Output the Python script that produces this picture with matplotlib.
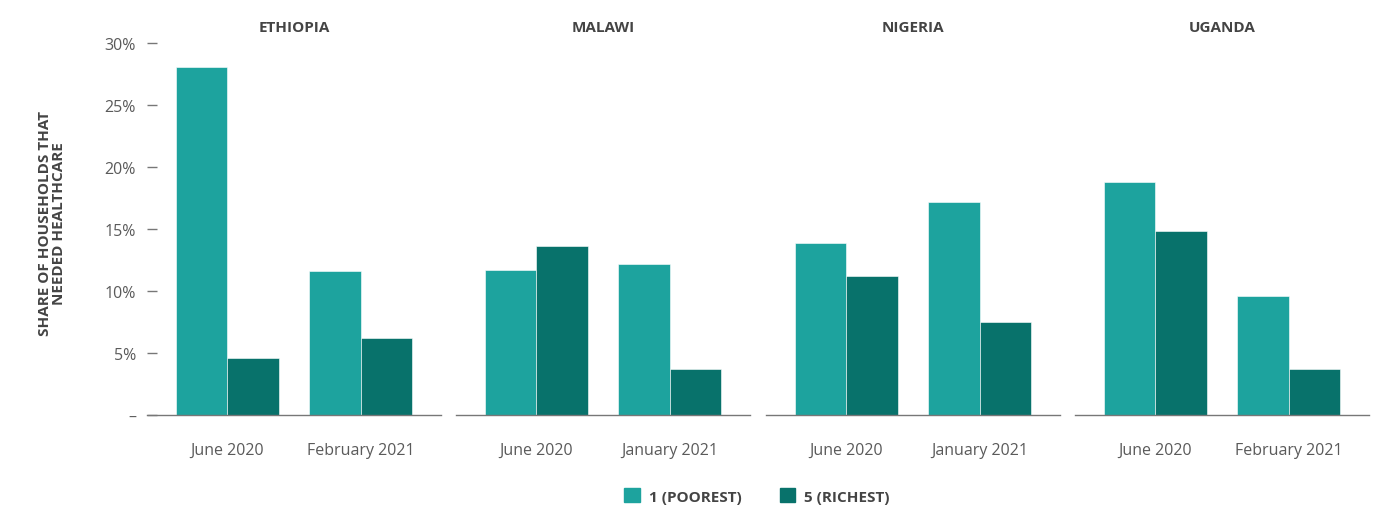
import matplotlib.pyplot as plt
from matplotlib.patches import Patch

countries = ['ETHIOPIA', 'MALAWI', 'NIGERIA', 'UGANDA']
rounds = [
    ['June 2020', 'February 2021'],
    ['June 2020', 'January 2021'],
    ['June 2020', 'January 2021'],
    ['June 2020', 'February 2021'],
]
poorest = [
    [28.1, 11.6],
    [11.7, 12.2],
    [13.9, 17.2],
    [18.8, 9.6],
]
richest = [
    [4.6, 6.2],
    [13.6, 3.7],
    [11.2, 7.5],
    [14.8, 3.7],
]
yticks = [0, 5, 10, 15, 20, 25, 30]
ytick_labels = ['–', '5%', '10%', '15%', '20%', '25%', '30%']

C_POOR = '#1da39e'
C_RICH = '#08726b'
TXT = '#5a5a5a'
HEAD = '#444444'

plt.rcParams['font.family'] = ['Open Sans', 'DejaVu Sans']

W, H = 1389, 506
fig = plt.figure(figsize=(W / 100, H / 100), dpi=100)

lefts = [147, 456, 766, 1075]
bw = 0.39
for i, name in enumerate(countries):
    ax = fig.add_axes([lefts[i] / W, (H - 416) / H, 294 / W, 372 / H])
    xs = [0, 1]
    ax.bar([x - bw / 2 for x in xs], poorest[i], width=bw, color=C_POOR,
           edgecolor='white', linewidth=0.4)
    ax.bar([x + bw / 2 for x in xs], richest[i], width=bw, color=C_RICH,
           edgecolor='white', linewidth=0.4)
    ax.set_xlim(-0.605, 1.605)
    ax.set_ylim(0, 30)
    ax.set_xticks(xs)
    ax.set_xticklabels(rounds[i], fontsize=11.5, color=TXT)
    ax.tick_params(axis='x', length=0, pad=28)
    for lbl in ax.get_xticklabels():
        lbl.set_verticalalignment('baseline')
    for s in ['top', 'right', 'left']:
        ax.spines[s].set_visible(False)
    ax.spines['bottom'].set_color('#777777')
    ax.spines['bottom'].set_linewidth(1.0)
    ax.set_title(name, fontsize=11, fontweight='bold', color=HEAD, pad=9)
    if i == 0:
        ax.set_yticks(yticks)
        ax.set_yticklabels(ytick_labels, fontsize=11.5, color=TXT)
        ax.tick_params(axis='y', direction='in', length=7, width=1,
                       color='#777777', pad=8)
    else:
        ax.set_yticks([])

fig.text(52 / W, 1 - 224 / H, 'SHARE OF HOUSEHOLDS THAT\nNEEDED HEALTHCARE',
         rotation=90, ha='center', va='center', fontsize=11,
         fontweight='bold', color=HEAD, linespacing=1.05)

handles = [Patch(color=C_POOR, label='1 (POOREST)'),
           Patch(color=C_RICH, label='5 (RICHEST)')]
fig.legend(handles=handles, loc='center', bbox_to_anchor=(757 / W, 1 - 497 / H),
           ncol=2, frameon=False, handlelength=1.0, handleheight=1.0,
           columnspacing=2.5, handletextpad=0.6,
           prop={'size': 11, 'weight': 'bold'}, labelcolor=HEAD)

fig.savefig('out.png', dpi=100)
